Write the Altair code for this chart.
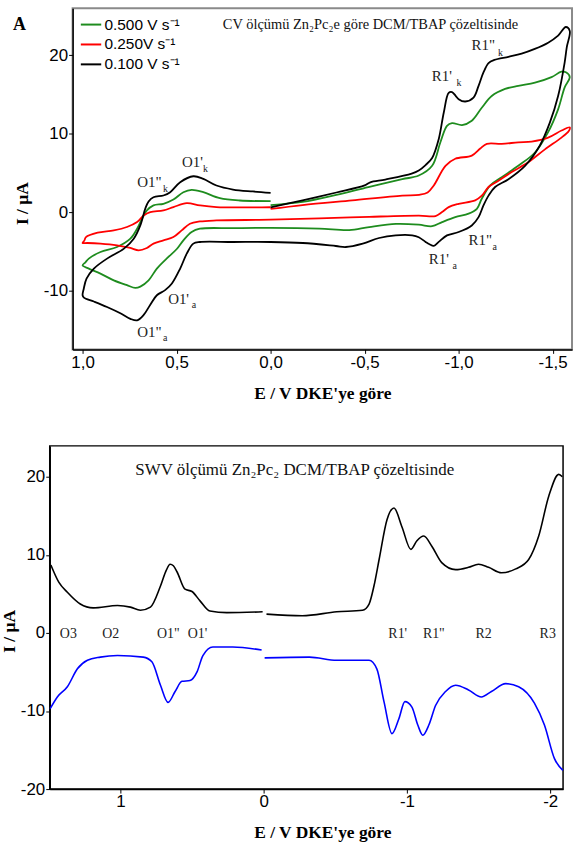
import altair as alt
import pandas as pd

# ---------------- CV data (E / V, I / uA), listed in sweep order ----------------
# 0.100 V/s (black)
blk_fwd_E = [0.0, -0.17, -0.35, -0.50, -0.53, -0.61, -0.75, -0.788, -0.824, -0.859, -0.894, -0.921, -0.947, -0.965, -0.985, -1.0, -1.035, -1.079, -1.106, -1.132, -1.159, -1.19, -1.265, -1.335, -1.405, -1.476, -1.529, -1.57, -1.591]
blk_fwd_I = [0.6, 1.5, 2.5, 3.4, 3.8, 4.15, 4.9, 5.3, 6.0, 6.9, 9.3, 12.7, 15.2, 15.3, 14.8, 14.4, 14.1, 14.6, 16.1, 17.8, 19.0, 19.4, 19.8, 20.2, 20.8, 21.6, 22.5, 23.6, 23.1]
blk_rev_E = [-1.575, -1.564, -1.529, -1.485, -1.432, -1.353, -1.265, -1.194, -1.159, -1.132, -1.106, -1.07, -1.0, -0.938, -0.894, -0.868, -0.845, -0.824, -0.788, -0.753, -0.665, -0.577, -0.49, -0.40, -0.347, -0.171, 0.0]
blk_rev_I = [21.0, 19.1, 14.8, 11.4, 8.5, 5.9, 4.2, 3.2, 2.1, 0.85, -0.64, -1.7, -2.54, -2.97, -3.8, -4.3, -4.1, -3.8, -3.2, -2.96, -2.96, -3.30, -4.02, -4.45, -4.32, -3.94, -3.81]
blk_ox_E = [0.2, 0.376, 0.411, 0.446, 0.481, 0.525, 0.561, 0.605, 0.64, 0.675, 0.71, 0.746, 0.799, 0.87, 0.94, 0.993, 1.0]
blk_ox_I = [-3.81, -3.81, -4.02, -5.3, -7.2, -9.1, -9.95, -10.6, -11.8, -13.1, -13.8, -13.6, -12.9, -12.1, -11.4, -10.9, -10.6]
blk_back_E = [0.994, 0.979, 0.94, 0.87, 0.78, 0.728, 0.693, 0.667, 0.649, 0.623, 0.57, 0.534, 0.481, 0.411, 0.358, 0.288, 0.2, 0.094, 0.0]
blk_back_I = [-9.8, -8.47, -7.2, -5.93, -4.66, -3.39, -1.69, 0.42, 1.36, 1.9, 2.12, 2.54, 3.81, 4.57, 4.24, 3.39, 2.88, 2.63, 2.46]

# 0.500 V/s (green)
grn_fwd_E = [0.0, -0.17, -0.35, -0.52, -0.70, -0.788, -0.859, -0.903, -0.938, -0.965, -1.018, -1.07, -1.123, -1.176, -1.247, -1.317, -1.406, -1.494, -1.547, -1.573, -1.591]
grn_fwd_I = [0.9, 1.3, 2.2, 3.2, 4.2, 4.66, 5.9, 8.9, 11.0, 11.35, 11.1, 11.65, 13.3, 14.8, 15.7, 16.1, 16.5, 17.2, 17.9, 17.8, 17.2]
grn_rev_E = [-1.564, -1.529, -1.476, -1.406, -1.317, -1.229, -1.168, -1.123, -1.097, -1.053, -0.982, -0.912, -0.859, -0.788, -0.667, -0.524, -0.418, -0.259, 0.0]
grn_rev_I = [15.9, 13.1, 10.2, 7.6, 5.9, 4.45, 3.4, 1.7, 0.42, -0.2, -0.64, -1.27, -1.8, -1.6, -1.5, -1.9, -2.3, -2.1, -2.0]
grn_ox_E = [0.2, 0.376, 0.42, 0.464, 0.499, 0.552, 0.605, 0.649, 0.693, 0.72, 0.764, 0.834, 0.905, 0.967, 1.0]
grn_ox_I = [-2.05, -2.12, -2.54, -3.6, -4.7, -5.9, -7.2, -8.7, -9.5, -9.66, -9.32, -8.7, -7.84, -7.2, -6.8]
grn_back_E = [0.985, 0.967, 0.905, 0.817, 0.746, 0.71, 0.684, 0.658, 0.623, 0.57, 0.517, 0.464, 0.42, 0.358, 0.27, 0.164, 0.0]
grn_back_I = [-6.4, -5.93, -5.08, -4.45, -3.39, -2.12, -0.85, 0.21, 0.85, 1.06, 1.6, 2.54, 2.84, 2.54, 1.78, 1.48, 1.4]

# 0.250 V/s (red)
red_fwd_E = [0.0, -0.17, -0.434, -0.70, -0.79, -0.835, -0.868, -0.93, -0.982, -1.07, -1.115, -1.15, -1.229, -1.317, -1.388, -1.476, -1.547, -1.591]
red_fwd_I = [0.4, 0.9, 1.5, 2.1, 2.2, 2.5, 3.4, 5.9, 6.8, 7.2, 8.1, 8.7, 8.7, 8.9, 9.0, 9.5, 10.4, 10.8]
red_rev_E = [-1.585, -1.547, -1.459, -1.37, -1.282, -1.212, -1.159, -1.123, -1.088, -1.0, -0.947, -0.912, -0.877, -0.788, -0.524, -0.259, 0.0]
red_rev_I = [10.3, 9.5, 8.0, 6.35, 5.1, 4.0, 3.2, 2.1, 1.5, 1.06, 0.64, 0.0, -0.5, -0.45, -0.6, -0.8, -0.97]
red_ox_E = [0.288, 0.376, 0.429, 0.473, 0.517, 0.57, 0.623, 0.658, 0.702, 0.746, 0.817, 0.905, 0.975, 1.0]
red_ox_I = [-1.06, -1.19, -1.48, -2.33, -3.18, -3.6, -4.02, -4.57, -4.87, -4.57, -4.24, -4.02, -3.94, -3.94]
red_back_E = [0.99, 0.982, 0.92, 0.834, 0.764, 0.71, 0.675, 0.64, 0.57, 0.517, 0.446, 0.376, 0.288, 0.0]
red_back_I = [-3.6, -3.18, -2.63, -2.33, -1.9, -1.27, -0.42, 0.0, 0.21, 0.64, 1.14, 0.85, 0.64, 0.64]

cv_series = ["0.500 V s⁻¹", "0.250V s⁻¹", "0.100 V s⁻¹"]
cv_colors = ["#1e8c1e", "#ff0000", "#000000"]

# ---------------- SWV data ----------------
swv_blk1_E = [1.485, 1.43, 1.37, 1.28, 1.19, 1.02, 0.93, 0.86, 0.79, 0.72, 0.68, 0.653, 0.63, 0.604, 0.549, 0.50, 0.444, 0.375, 0.257, 0.007]
swv_blk1_I = [8.7, 6.5, 5.2, 3.7, 3.2, 3.5, 3.3, 2.9, 3.3, 6.0, 8.0, 8.8, 8.6, 7.8, 5.6, 5.3, 4.1, 2.8, 2.6, 2.7]
swv_blk2_E = [-0.02, -0.27, -0.51, -0.69, -0.736, -0.77, -0.806, -0.861, -0.91, -0.965, -1.028, -1.07, -1.118, -1.174, -1.243, -1.34, -1.43, -1.50, -1.57, -1.66, -1.76, -1.85, -1.92, -1.99, -2.06, -2.085]
swv_blk2_I = [2.4, 2.2, 2.7, 2.9, 3.7, 6.0, 9.4, 14.5, 16.0, 13.6, 10.7, 11.8, 12.4, 11.1, 9.0, 8.1, 8.4, 8.8, 8.4, 7.7, 8.2, 9.4, 12.4, 17.5, 20.3, 20.0]
swv_blu1_E = [1.49, 1.44, 1.37, 1.30, 1.23, 1.14, 1.02, 0.84, 0.78, 0.72, 0.667, 0.618, 0.57, 0.514, 0.465, 0.424, 0.354, 0.215, 0.014]
swv_blu1_I = [-9.7, -8.2, -6.9, -4.6, -3.5, -3.1, -2.9, -3.1, -3.7, -6.7, -8.9, -7.5, -6.2, -6.1, -5.0, -2.9, -1.8, -1.8, -2.2]
swv_blu2_E = [-0.007, -0.32, -0.51, -0.736, -0.79, -0.84, -0.896, -0.944, -0.986, -1.035, -1.076, -1.111, -1.153, -1.20, -1.27, -1.34, -1.43, -1.52, -1.59, -1.69, -1.78, -1.89, -1.96, -2.03, -2.089]
swv_blu2_I = [-3.2, -3.1, -3.5, -3.5, -4.6, -8.8, -12.9, -11.0, -8.8, -9.5, -11.8, -13.1, -11.8, -9.3, -7.5, -6.7, -7.3, -8.2, -7.5, -6.5, -6.9, -9.0, -11.8, -16.1, -17.6]

# ---------------- annotation texts ----------------
top_lab_text = ['R1"', "R1'", "O1'", 'O1"', "O1'", 'O1"', "R1'", 'R1"']
top_lab_E = [-1.069, -0.857, 0.471, 0.709, 0.545, 0.709, -0.841, -1.053]
top_lab_I = [21.3, 17.4, 6.35, 3.8, -11.05, -15.25, -6.0, -3.6]
top_sub_text = ["k", "k", "k", "k", "a", "a", "a", "a"]
top_sub_E = [-1.21, -0.989, 0.36, 0.572, 0.419, 0.572, -0.968, -1.18]
top_sub_I = [20.3, 16.5, 5.5, 2.9, -11.9, -16.1, -6.9, -4.45]
top_title = "CV ölçümü Zn₂Pc₂e göre DCM/TBAP çözeltisinde"
bot_title = "SWV ölçümü Zn₂Pc₂ DCM/TBAP çözeltisinde"
bot_lab_text = ["O3", "O2", 'O1"', "O1'", "R1'", 'R1"', "R2", "R3"]
bot_lab_E = [1.363, 1.067, 0.665, 0.462, -0.936, -1.188, -1.535, -1.983]

LABEL_FONT = "Liberation Sans"
SERIF = "Liberation Serif"


def cv_path(series, parts):
    E, I = [], []
    for pe, pi in parts:
        E += pe
        I += pi
    return pd.DataFrame({"E": E, "I": I, "ord": list(range(len(E))), "series": series})


cv_df = pd.concat([
    cv_path(cv_series[0], [(grn_fwd_E, grn_fwd_I), (grn_rev_E, grn_rev_I), (grn_ox_E, grn_ox_I), (grn_back_E, grn_back_I)]),
    cv_path(cv_series[1], [(red_fwd_E, red_fwd_I), (red_rev_E, red_rev_I), (red_ox_E, red_ox_I), (red_back_E, red_back_I)]),
    cv_path(cv_series[2], [(blk_fwd_E, blk_fwd_I), (blk_rev_E, blk_rev_I), (blk_ox_E, blk_ox_I), (blk_back_E, blk_back_I)]),
], ignore_index=True)

neg_fmt1 = "(datum.value < 0 ? '-' : '') + replace(format(abs(datum.value), '.1f'), '.', ',')"
neg_fmt0 = "(datum.value < 0 ? '-' : '') + format(abs(datum.value), 'd')"

axis_common = dict(
    grid=False, domainColor="black", domainWidth=1.5, tickColor="black", tickWidth=1,
    tickSize=4, labelFont=LABEL_FONT, labelFontSize=17, labelColor="black", labelPadding=1,
    titleFont=SERIF, titleFontSize=17.5, titleFontWeight="bold", titleColor="black",
)

x_top = alt.X("E:Q", scale=alt.Scale(domain=[1.053, -1.603], nice=False, zero=False),
              axis=alt.Axis(values=[1, 0.5, 0, -0.5, -1, -1.5], labelExpr=neg_fmt1,
                            title="E / V DKE'ye göre", titlePadding=14, **axis_common))
y_top = alt.Y("I:Q", scale=alt.Scale(domain=[-17.5, 26.0], nice=False, zero=False),
              axis=alt.Axis(values=[20, 10, 0, -10], labelExpr=neg_fmt0, title="I / µA",
                            titleX=-50, titleY=196, titleAngle=270, titleAlign="center",
                            titleBaseline="middle", **axis_common))

cv_lines = alt.Chart(cv_df).mark_line(strokeWidth=1.8, interpolate="catmull-rom").encode(
    x=x_top, y=y_top, order="ord:Q",
    color=alt.Color("series:N", scale=alt.Scale(domain=cv_series, range=cv_colors),
                    legend=alt.Legend(orient="none", legendX=30, legendY=5, title=None,
                                      symbolType="stroke", symbolStrokeWidth=2, symbolSize=420,
                                      labelFont=LABEL_FONT, labelFontSize=15.5, labelColor="black",
                                      labelOffset=2, rowPadding=0, padding=0)),
)

top_lab_df = pd.DataFrame({"E": top_lab_E, "I": top_lab_I, "t": top_lab_text})
top_sub_df = pd.DataFrame({"E": top_sub_E, "I": top_sub_I, "t": top_sub_text})
top_labels = alt.Chart(top_lab_df).mark_text(font=SERIF, fontSize=15, align="left", baseline="middle", color="#222").encode(
    x="E:Q", y="I:Q", text="t:N")
top_subs = alt.Chart(top_sub_df).mark_text(font=SERIF, fontSize=10, align="left", baseline="middle", color="#222").encode(
    x="E:Q", y="I:Q", text="t:N")
top_title_df = pd.DataFrame({"E": [0.254], "I": [23.9], "t": [top_title]})
top_title_txt = alt.Chart(top_title_df).mark_text(font=SERIF, fontSize=14.5, align="left", baseline="middle", color="#111").encode(
    x="E:Q", y="I:Q", text="t:N")
panel_df = pd.DataFrame({"E": [1.37], "I": [23.9], "t": ["A"]})
panel_txt = alt.Chart(panel_df).mark_text(font=SERIF, fontSize=18, fontWeight="bold", align="left", baseline="middle", color="black").encode(
    x="E:Q", y="I:Q", text="t:N")

top = alt.layer(cv_lines, top_labels, top_subs, top_title_txt, panel_txt).properties(
    width=502, height=343, view=alt.ViewBackground(stroke="#8a8a8a", strokeWidth=2))

spacer = alt.Chart(pd.DataFrame({"s": [0]})).mark_point(opacity=0).encode(
    x=alt.X("s:Q", axis=None), y=alt.Y("s:Q", axis=None)).properties(
    width=23, height=10, view=alt.ViewBackground(stroke="transparent"))

top_row = alt.hconcat(spacer, top, spacing=0, bounds="flush")

# ---------------- bottom panel ----------------
x_bot = alt.X("E:Q", scale=alt.Scale(domain=[1.493, -2.09], nice=False, zero=False),
              axis=alt.Axis(values=[1, 0, -1, -2], labelExpr=neg_fmt0, title="E / V DKE'ye göre",
                            titlePadding=14, titleX=274, **axis_common))
y_bot = alt.Y("I:Q", scale=alt.Scale(domain=[-20, 23.95], nice=False, zero=False),
              axis=alt.Axis(values=[20, 10, 0, -10, -20], labelExpr=neg_fmt0, title="I / µA",
                            titleX=-40, titleY=186, titleAngle=270, titleAlign="center",
                            titleBaseline="middle", **axis_common))


def seg(E, I):
    return pd.DataFrame({"E": E, "I": I, "ord": list(range(len(E)))})


swv_layers = []
for (E, I, col) in [(swv_blk1_E, swv_blk1_I, "black"), (swv_blk2_E, swv_blk2_I, "black"),
                    (swv_blu1_E, swv_blu1_I, "#0000ff"), (swv_blu2_E, swv_blu2_I, "#0000ff")]:
    swv_layers.append(alt.Chart(seg(E, I)).mark_line(strokeWidth=1.6, interpolate="monotone", color=col).encode(
        x=x_bot, y=y_bot, order="ord:Q"))

bot_lab_df = pd.DataFrame({"E": bot_lab_E, "I": [-0.13] * len(bot_lab_E), "t": bot_lab_text})
bot_labels = alt.Chart(bot_lab_df).mark_text(font=SERIF, fontSize=14, align="center", baseline="middle", color="#222").encode(
    x="E:Q", y="I:Q", text="t:N")
bot_title_df = pd.DataFrame({"E": [0.896], "I": [20.9], "t": [bot_title]})
bot_title_txt = alt.Chart(bot_title_df).mark_text(font=SERIF, fontSize=17, align="left", baseline="middle", color="#111").encode(
    x="E:Q", y="I:Q", text="t:N")

bottom = alt.layer(*swv_layers, bot_labels, bot_title_txt).properties(
    width=516, height=345, view=alt.ViewBackground(stroke="black", strokeWidth=1.5))

chart = alt.vconcat(top_row, bottom, spacing=42).properties(
    padding={"left": 0, "top": 5, "right": 0, "bottom": 0}
).configure(background="white").configure_view(fill="white")

chart.save("out.html", embed_options={"renderer": "svg", "actions": False})
